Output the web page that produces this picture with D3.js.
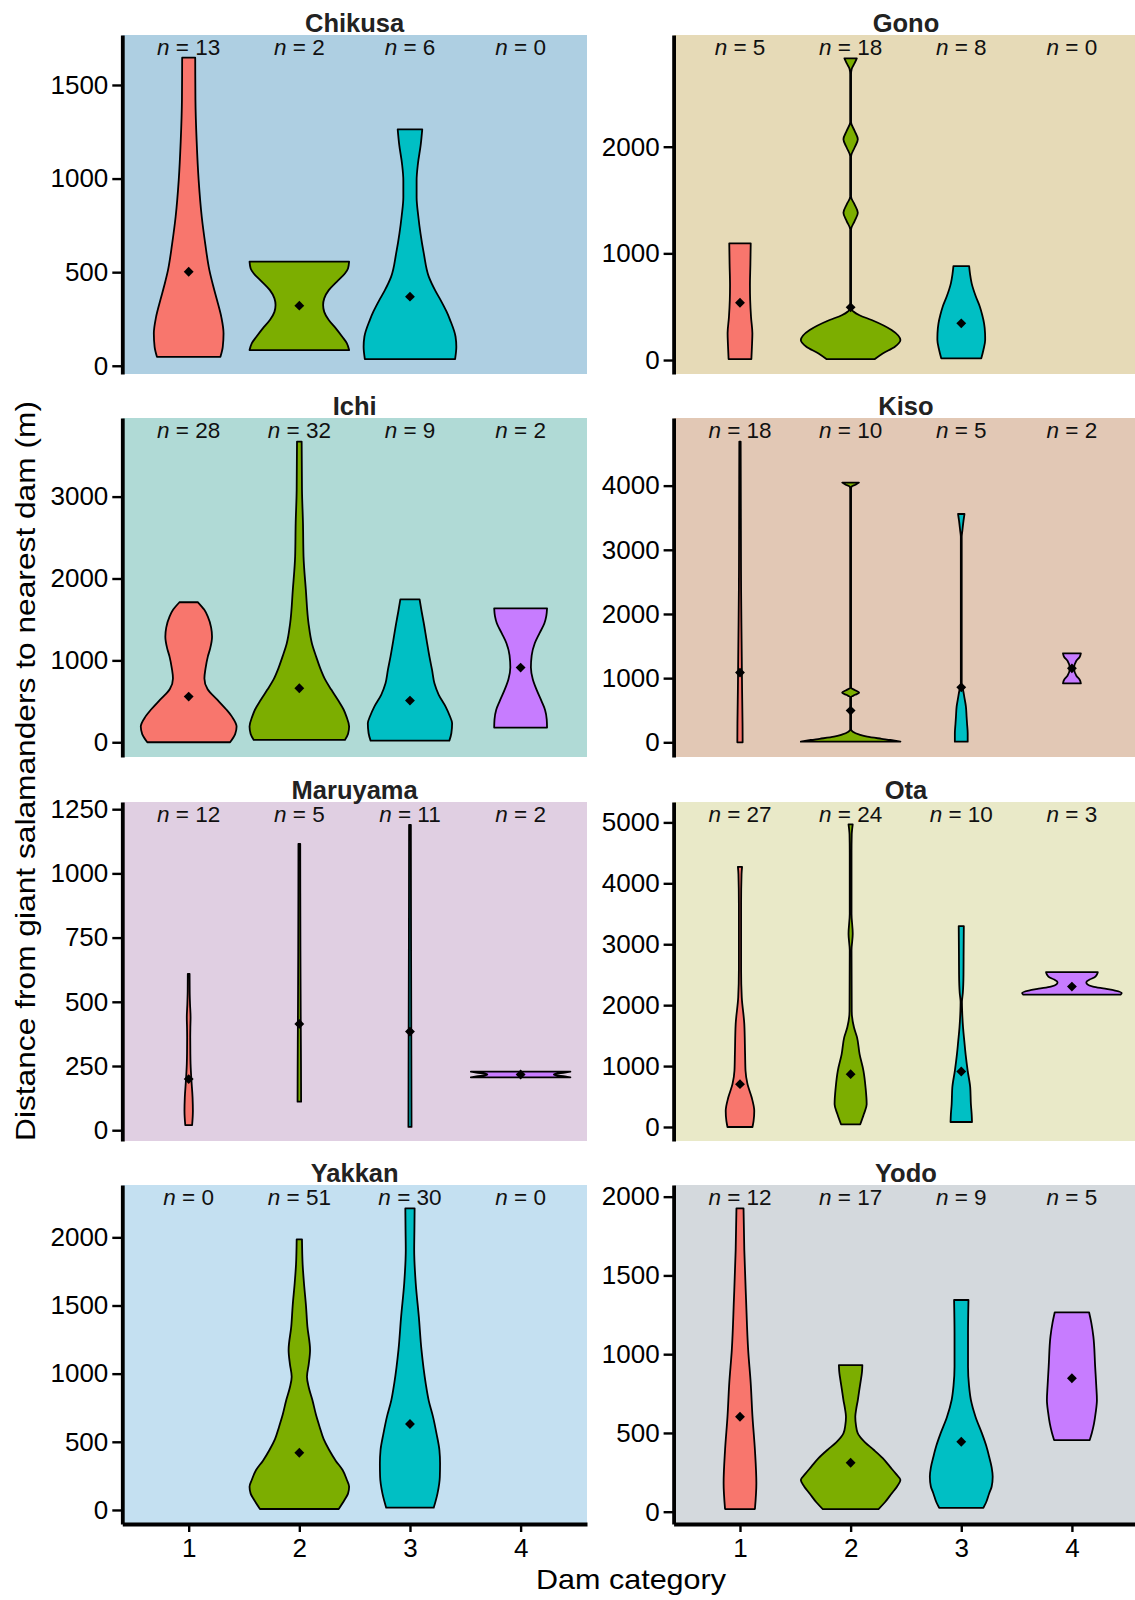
<!DOCTYPE html>
<html><head><meta charset="utf-8">
<script src="https://cdn.jsdelivr.net/npm/d3@7"></script>
<style>
body{margin:0;background:#fff}
svg{display:block}
text{font-family:"Liberation Sans",Arial,Helvetica,sans-serif}
</style>
</head><body>
<svg id="chart" width="1135" height="1600"></svg>
<script>
// ---------------- DATA ----------------
const panels = ["Chikusa","Gono","Ichi","Kiso","Maruyama","Ota","Yakkan","Yodo"];
const categories = [1,2,3,4];
const categoryColors = ["#F8766D","#7CAE00","#00BFC4","#C77CFF"];
const panelBg = ["#aecfe2","#e6dab7","#b0dad6","#e2c8b5","#e0cfe2","#e9e9c8","#c4e0f1","#d4d9dd"];

const yTicksChikusa = [0,500,1000,1500];
const yTicksGono = [0,1000,2000];
const yTicksIchi = [0,1000,2000,3000];
const yTicksKiso = [0,1000,2000,3000,4000];
const yTicksMaruyama = [0,250,500,750,1000,1250];
const yTicksOta = [0,1000,2000,3000,4000,5000];
const yTicksYakkan = [0,500,1000,1500,2000];
const yTicksYodo = [0,500,1000,1500,2000];

const yDomains = [[-44,1767],[-131,3047],[-180,3960],[-229,5054],[-42,1278],[-230,5335],[-103,2384],[-78,2074]];

// sample counts per dam category
const nChikusa = [13,2,6,0];
const nGono = [5,18,8,0];
const nIchi = [28,32,9,2];
const nKiso = [18,10,5,2];
const nMaruyama = [12,5,11,2];
const nOta = [27,24,10,3];
const nYakkan = [0,51,30,0];
const nYodo = [12,17,9,5];

// mean distance per dam category
const meanChikusa = [502,321,369,null];
const meanGono = [537,494,344,null];
const meanIchi = [558,659,509,912];
const meanKiso = [1086,494,857,1153];
const meanMaruyama = [199,414,384,217];
const meanOta = [703,867,911,2305];
const meanYakkan = [null,420,631,null];
const meanYodo = [603,311,444,847];

// violin density profiles: [distance (m), half-width in category units]
const violinChikusa = [
 [[1646,0.059],[1420,0.061],[1200,0.072],[992,0.09],[796,0.118],[650,0.15],[511,0.187],[430,0.22],[351,0.256],[260,0.295],[173,0.315],[101,0.308],[48,0.287]],
 [[556,0.45],[520,0.44],[493,0.412],[450,0.34],[404,0.266],[360,0.225],[324,0.215],[288,0.225],[244,0.266],[200,0.33],[155,0.388],[120,0.43],[84,0.45]],
 [[1263,0.111],[1180,0.097],[1080,0.072],[990,0.06],[900,0.06],[800,0.075],[707,0.095],[600,0.125],[476,0.17],[400,0.23],[351,0.277],[290,0.33],[244,0.363],[155,0.412],[101,0.419],[36,0.408]],
 null];
const violinGono = [
 [[1094,0.097],[900,0.094],[700,0.09],[562,0.092],[400,0.1],[250,0.112],[125,0.108],[9,0.103]],
 [[2828,0.056],[2780,0.035],[2730,0.01],[2680,0.004],[2230,0.004],[2150,0.035],[2069,0.065],[1990,0.035],[1910,0.004],[1530,0.004],[1460,0.035],[1381,0.065],[1300,0.035],[1225,0.004],[480,0.004],[455,0.025],[420,0.08],[375,0.19],[281,0.37],[230,0.43],[188,0.45],[125,0.40],[62,0.29],[9,0.219]],
 [[881,0.071],[800,0.08],[719,0.094],[600,0.13],[500,0.168],[420,0.19],[344,0.206],[250,0.215],[188,0.216],[94,0.2],[16,0.181]],
 null];
const violinIchi = [
 [[1710,0.083],[1620,0.14],[1535,0.173],[1400,0.203],[1290,0.211],[1150,0.195],[1046,0.173],[900,0.152],[780,0.142],[650,0.17],[517,0.26],[400,0.34],[313,0.391],[191,0.433],[100,0.42],[0,0.374]],
 [[3672,0.021],[3081,0.024],[2674,0.033],[2267,0.038],[1860,0.059],[1453,0.083],[1200,0.115],[1046,0.152],[900,0.19],[761,0.235],[640,0.29],[517,0.349],[400,0.4],[313,0.426],[191,0.45],[100,0.44],[28,0.412]],
 [[1746,0.087],[1600,0.105],[1453,0.125],[1250,0.15],[1046,0.176],[880,0.2],[720,0.221],[580,0.26],[436,0.322],[320,0.36],[232,0.381],[110,0.374],[20,0.356]],
 [[1636,0.239],[1540,0.232],[1453,0.215],[1330,0.17],[1209,0.128],[1060,0.1],[912,0.093],[770,0.11],[639,0.145],[500,0.19],[395,0.221],[280,0.236],[179,0.239]]];
const violinKiso = [
 [[4686,0.006],[3500,0.008],[2374,0.01],[1335,0.016],[816,0.019],[296,0.023],[0,0.024]],
 [[4047,0.075],[4015,0.045],[3985,0.008],[3950,0.004],[850,0.004],[812,0.04],[774,0.077],[740,0.04],[705,0.004],[200,0.004],[166,0.02],[120,0.08],[88,0.15],[55,0.28],[36,0.36],[10,0.45]],
 [[3558,0.029],[3450,0.02],[3300,0.01],[3205,0.004],[919,0.004],[857,0.01],[816,0.016],[700,0.028],[556,0.042],[400,0.048],[296,0.052],[140,0.058],[10,0.058]],
 [[1387,0.081],[1330,0.07],[1270,0.04],[1153,0.019],[1036,0.04],[975,0.07],[919,0.081]]];
const violinMaruyama = [
 [[609,0.008],[540,0.009],[492,0.012],[440,0.017],[400,0.015],[362,0.014],[300,0.015],[258,0.017],[199,0.024],[128,0.035],[75,0.038],[20,0.031]],
 [[1115,0.008],[700,0.01],[414,0.013],[250,0.015],[111,0.016]],
 [[1189,0.008],[700,0.01],[384,0.012],[200,0.013],[13,0.014]],
 [[228,0.45],[224,0.4],[220,0.32],[217,0.3],[214,0.32],[210,0.4],[206,0.45]]];
const violinOta = [
 [[4270,0.019],[4150,0.014],[3666,0.01],[2569,0.01],[2130,0.016],[1690,0.039],[1196,0.046],[922,0.05],[703,0.068],[483,0.106],[263,0.129],[99,0.123],[0,0.113]],
 [[4967,0.019],[4800,0.01],[4500,0.008],[3500,0.008],[3172,0.019],[2900,0.008],[1900,0.01],[1636,0.03],[1471,0.058],[1196,0.081],[922,0.116],[648,0.135],[373,0.145],[209,0.119],[44,0.087]],
 [[3299,0.023],[2800,0.021],[2500,0.02],[2200,0.014],[2050,0.006],[1900,0.008],[1636,0.016],[1400,0.028],[1196,0.039],[922,0.058],[648,0.081],[373,0.087],[209,0.094],[82,0.097]],
 [[2541,0.234],[2500,0.225],[2459,0.205],[2420,0.16],[2377,0.13],[2340,0.14],[2305,0.19],[2270,0.3],[2239,0.39],[2200,0.45],[2173,0.44]]];
const violinYakkan = [
 null,
 [[1985,0.024],[1800,0.03],[1663,0.042],[1500,0.06],[1345,0.073],[1174,0.097],[1070,0.085],[978,0.069],[900,0.085],[807,0.118],[700,0.15],[611,0.183],[520,0.22],[440,0.27],[360,0.33],[293,0.391],[220,0.43],[171,0.45],[120,0.44],[73,0.408],[7,0.356]],
 [[2213,0.042],[2050,0.04],[1907,0.038],[1663,0.052],[1418,0.08],[1174,0.104],[929,0.142],[800,0.17],[685,0.208],[560,0.24],[440,0.266],[340,0.272],[244,0.27],[122,0.249],[17,0.215]],
 null];
const violinYodo = [
 [[1926,0.032],[1661,0.039],[1344,0.055],[1026,0.074],[815,0.097],[603,0.113],[392,0.135],[180,0.148],[17,0.135]],
 [[931,0.106],[890,0.103],[857,0.097],[780,0.08],[709,0.065],[650,0.05],[603,0.042],[550,0.048],[497,0.065],[440,0.13],[392,0.21],[340,0.29],[286,0.355],[240,0.41],[201,0.45],[160,0.42],[116,0.371],[60,0.31],[17,0.252]],
 [[1344,0.065],[1132,0.061],[921,0.061],[800,0.07],[709,0.087],[600,0.13],[497,0.187],[420,0.225],[349,0.252],[280,0.275],[222,0.284],[160,0.275],[116,0.252],[60,0.225],[25,0.2]],
 [[1266,0.155],[1200,0.175],[1111,0.194],[921,0.21],[800,0.22],[709,0.226],[630,0.215],[561,0.2],[500,0.18],[455,0.161]]];

const yTicks = [yTicksChikusa,yTicksGono,yTicksIchi,yTicksKiso,yTicksMaruyama,yTicksOta,yTicksYakkan,yTicksYodo];
const nCounts = [nChikusa,nGono,nIchi,nKiso,nMaruyama,nOta,nYakkan,nYodo];
const means = [meanChikusa,meanGono,meanIchi,meanKiso,meanMaruyama,meanOta,meanYakkan,meanYodo];
const violins = [violinChikusa,violinGono,violinIchi,violinKiso,violinMaruyama,violinOta,violinYakkan,violinYodo];

const xTitle = "Dam category";
const yTitle = "Distance from giant salamanders to nearest dam (m)";

// ---------------- LAYOUT ----------------
const colX0 = [122.3, 673.6];
const rowY0 = [35, 418, 802, 1185];
const panelW = 464.7, panelH = 339;

const svg = d3.select("#chart");

panels.forEach((name, i) => {
  const col = i % 2, row = Math.floor(i / 2);
  const g = svg.append("g").attr("transform", `translate(${colX0[col]},${rowY0[row]})`);
  const x = d3.scaleLinear().domain([0.4, 4.6]).range([0, panelW]);
  const y = d3.scaleLinear().domain(yDomains[i]).range([panelH, 0]);

  g.append("rect").attr("width", panelW).attr("height", panelH).attr("fill", panelBg[i]);

  // violins
  violins[i].forEach((prof, k) => {
    if (!prof) return;
    const c = categories[k];
    const area = d3.area()
      .curve(d3.curveMonotoneY)
      .y(d => y(d[0]))
      .x0(d => x(c - d[1]))
      .x1(d => x(c + d[1]));
    g.append("path").attr("d", area(prof))
      .attr("fill", categoryColors[k]).attr("stroke", "#000")
      .attr("stroke-width", 1.8).attr("stroke-linejoin", "round");
  });

  // means
  means[i].forEach((m, k) => {
    if (m == null) return;
    g.append("path").attr("d", d3.symbol(d3.symbolDiamond2, 62)())
      .attr("transform", `translate(${x(categories[k])},${y(m)})`)
      .attr("fill", "#000");
  });

  // n labels
  nCounts[i].forEach((n, k) => {
    const t = g.append("text").attr("x", x(categories[k])).attr("y", 20)
      .attr("text-anchor", "middle").attr("font-size", 22.5).attr("fill", "#111");
    t.append("tspan").attr("font-style", "italic").text("n");
    t.append("tspan").text(" = " + n);
  });

  // strip title
  g.append("text").attr("x", panelW / 2).attr("y", -3.5)
    .attr("text-anchor", "middle").attr("font-weight", "bold")
    .attr("font-size", 25.5).attr("fill", "#222").text(name);

  // y axis
  const ya = g.append("g").call(d3.axisLeft(y).tickValues(yTicks[i]).tickSize(10)
      .tickPadding(4).tickSizeOuter(0).tickFormat(d3.format("d")));
  ya.select(".domain").attr("stroke", "#000").attr("stroke-width", 3.8);
  ya.selectAll(".tick line").attr("stroke", "#000").attr("stroke-width", 2.4);
  ya.selectAll(".tick text").attr("font-size", 26).attr("fill", "#000")
    .attr("font-family", '"Liberation Sans",Arial,sans-serif');

  // x axis for bottom row
  if (row === 3) {
    const xa = g.append("g").attr("transform", `translate(0,${panelH})`)
      .call(d3.axisBottom(x).tickValues(categories).tickSize(8).tickPadding(7)
        .tickSizeOuter(0).tickFormat(d3.format("d")));
    xa.select(".domain").attr("stroke", "#000").attr("stroke-width", 3.8);
    xa.selectAll(".tick line").attr("stroke", "#000").attr("stroke-width", 2.4);
    xa.selectAll(".tick text").attr("font-size", 26).attr("fill", "#000")
      .attr("font-family", '"Liberation Sans",Arial,sans-serif');
  }
});

// axis titles
svg.append("text").attr("x", 631).attr("y", 1589).attr("text-anchor", "middle")
  .attr("font-size", 28).attr("fill", "#000")
  .attr("textLength", 190).attr("lengthAdjust", "spacingAndGlyphs").text(xTitle);

svg.append("text").attr("transform", "translate(35,771) rotate(-90)")
  .attr("text-anchor", "middle").attr("font-size", 28).attr("fill", "#000")
  .attr("textLength", 740).attr("lengthAdjust", "spacingAndGlyphs").text(yTitle);
</script>
</body></html>
